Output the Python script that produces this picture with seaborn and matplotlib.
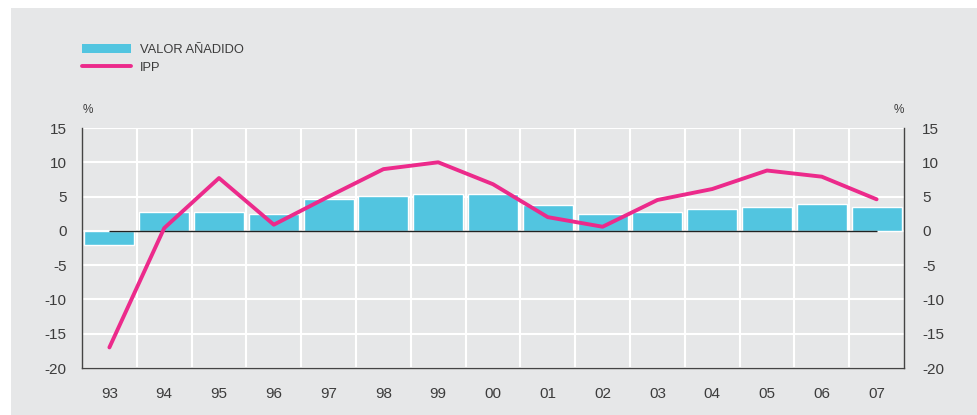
import numpy as np
import pandas as pd
import seaborn as sns
import matplotlib.pyplot as plt
from matplotlib.patches import Rectangle, Patch
from matplotlib.lines import Line2D

# data
years = ["93", "94", "95", "96", "97", "98", "99", "00",
         "01", "02", "03", "04", "05", "06", "07"]
valor_anadido = [-2.1, 2.7, 2.7, 2.5, 4.6, 5.1, 5.4, 5.4,
                 3.7, 2.5, 2.8, 3.2, 3.5, 3.9, 3.5]
ipp = [-17.0, 0.4, 7.7, 0.9, 5.0, 9.0, 10.0, 6.8,
       2.0, 0.6, 4.5, 6.1, 8.8, 7.9, 4.6]
yticks = [15, 10, 5, 0, -5, -10, -15, -20]

df = pd.DataFrame({"year": years, "valor": valor_anadido, "ipp": ipp})

bg = "#E6E7E8"
cyan = "#52C5E0"
magenta = "#EC2A8B"
txt = "#3C3C3C"

sns.set_style("white")
plt.rcParams["font.family"] = ["Liberation Sans", "DejaVu Sans"]
plt.rcParams["axes.unicode_minus"] = False

fig = plt.figure(figsize=(9.77, 4.15), dpi=100)
fig.patch.set_facecolor("white")
fig.add_artist(Rectangle((11 / 977, 0), 1, 1 - 8 / 415, transform=fig.transFigure,
                         facecolor=bg, edgecolor="none", zorder=-10))

ax = fig.add_axes([82 / 977, 1 - 368 / 415, (904 - 82) / 977, (368 - 128) / 415])
ax.set_facecolor(bg)

sns.barplot(data=df, x="year", y="valor", color=cyan, saturation=1, width=0.91,
            ax=ax, zorder=2)
ax.hlines(0, 0, len(years) - 1, color="#222222", lw=1, zorder=3)
sns.lineplot(data=df, x="year", y="ipp", color=magenta, lw=2.8, sort=False,
             ax=ax, zorder=4)

ax.set_xlim(-0.5, len(years) - 0.5)
ax.set_ylim(-20, 15)
ax.set_yticks(yticks)
ax.set_xticks(range(len(years)))
ax.set_xticklabels(years)
ax.set_xticks(np.arange(0.5, len(years) - 1, 1), minor=True)
ax.grid(axis="y", which="major", color="white", lw=1.5, zorder=0)
ax.grid(axis="x", which="minor", color="white", lw=1.5, zorder=0)
ax.grid(axis="x", which="major", visible=False)
ax.set_axisbelow(True)
ax.set_xlabel("")
ax.set_ylabel("")
ax.tick_params(axis="both", which="both", length=0, labelsize=11, labelcolor=txt)
ax.tick_params(axis="x", pad=14)
ax.tick_params(axis="y", pad=11)
for s in ["top", "right"]:
    ax.spines[s].set_visible(False)
for s in ["left", "bottom"]:
    ax.spines[s].set_color("#444444")
    ax.spines[s].set_linewidth(1)

ax2 = ax.twinx()
ax2.set_ylim(-20, 15)
ax2.set_yticks(yticks)
ax2.tick_params(axis="y", length=0, labelsize=11, labelcolor=txt, pad=13)
for s in ["top", "left", "bottom"]:
    ax2.spines[s].set_visible(False)
ax2.spines["right"].set_color("#444444")
ax2.spines["right"].set_linewidth(1)

fig.text(83 / 977, 1 - 110 / 415, "%", fontsize=8.5, color=txt, ha="left", va="center")
fig.text(904 / 977, 1 - 110 / 415, "%", fontsize=8.5, color=txt, ha="right", va="center")

handles = [Patch(facecolor=cyan, edgecolor="none"),
           Line2D([], [], color=magenta, lw=2.8)]
fig.legend(handles, ["VALOR AÑADIDO", "IPP"], loc="upper left",
           bbox_to_anchor=(82 / 977, 1 - 44 / 415), bbox_transform=fig.transFigure,
           frameon=False, fontsize=9.3, handlelength=3.8, handleheight=0.75,
           labelspacing=0.4, handletextpad=0.7, borderpad=0, borderaxespad=0,
           labelcolor=txt)

fig.savefig("out.png", dpi=100)
